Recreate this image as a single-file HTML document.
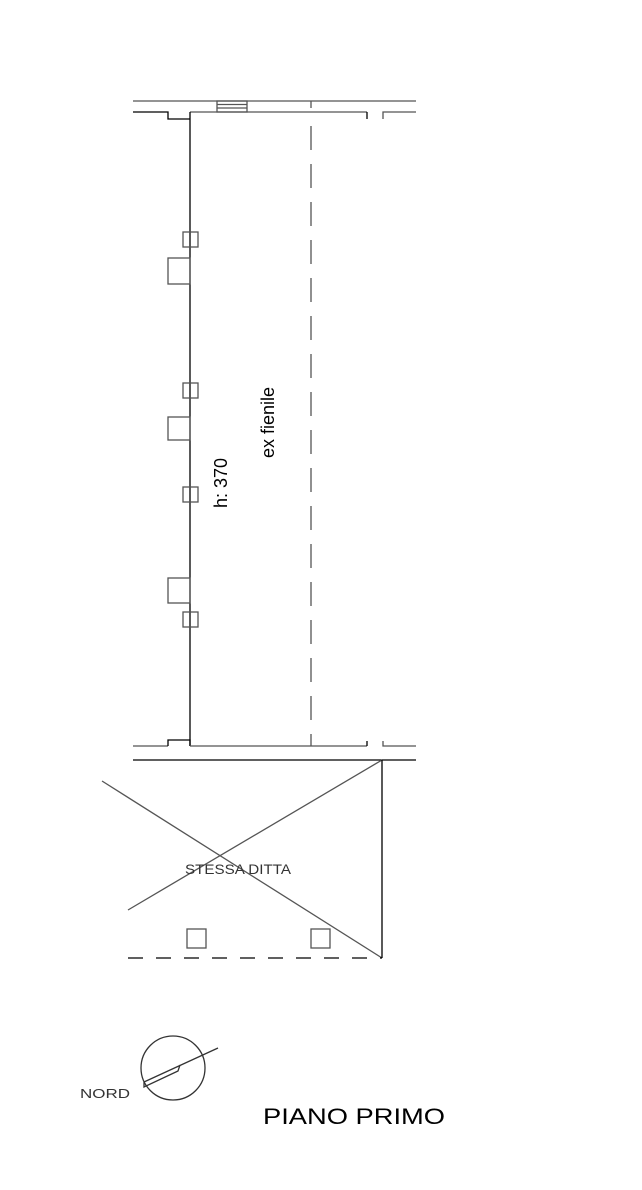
<!DOCTYPE html>
<html><head><meta charset="utf-8"><style>body{margin:0;background:#fff}svg{display:block}</style></head><body>
<svg width="642" height="1190" xmlns="http://www.w3.org/2000/svg" font-family="Liberation Sans, sans-serif">
<g stroke="#555" stroke-width="1.3" fill="none">
<line x1="133" y1="101" x2="416" y2="101"/>
<polyline points="133,112 168,112 168,119 190,119" stroke="#000"/>
<line x1="190" y1="112" x2="367" y2="112"/>
<line x1="367" y1="112" x2="367" y2="119" stroke="#000"/>
<polyline points="383,119 383,112 416,112"/>
<rect x="217" y="101" width="30" height="11"/>
<line x1="217" y1="104.5" x2="247" y2="104.5"/><line x1="217" y1="108" x2="247" y2="108"/>
<line x1="311" y1="101" x2="311" y2="108"/>
<line x1="311" y1="126" x2="311" y2="746" stroke-dasharray="24,14"/>
<line x1="190" y1="112" x2="190" y2="746" stroke="#000"/>
<line x1="133" y1="746" x2="168" y2="746"/>
<polyline points="168,746 168,740 190,740 190,746" stroke="#000"/>
<line x1="190" y1="746" x2="367" y2="746"/>
<line x1="367" y1="746" x2="367" y2="741" stroke="#000"/>
<polyline points="383,741 383,746 416,746"/>
<line x1="133" y1="760" x2="416" y2="760" stroke="#000"/>
<rect x="183" y="232" width="15" height="15"/>
<rect x="183" y="383" width="15" height="15"/>
<rect x="183" y="487" width="15" height="15"/>
<rect x="183" y="612" width="15" height="15"/>
<rect x="168" y="258" width="22" height="26"/>
<rect x="168" y="417" width="22" height="23"/>
<rect x="168" y="578" width="22" height="25"/>
<line x1="102" y1="781" x2="382" y2="958"/>
<line x1="128" y1="910" x2="382" y2="760"/>
<line x1="382" y1="760" x2="382" y2="958" stroke="#000"/>
<line x1="128" y1="958" x2="382" y2="958" stroke="#000" stroke-dasharray="15,13"/>
<rect x="187" y="929" width="19" height="19"/>
<rect x="311" y="929" width="19" height="19"/>
<circle cx="173" cy="1068" r="32" stroke="#333"/>
<line x1="144" y1="1082" x2="218" y2="1048" stroke="#333"/>
<polyline points="144,1082 144,1087 178,1071 180,1065" stroke="#333"/>
</g>
<text x="185" y="874" font-size="14" fill="#333" textLength="106" lengthAdjust="spacingAndGlyphs">STESSA DITTA</text>
<text x="80" y="1098" font-size="13" fill="#333" textLength="50" lengthAdjust="spacingAndGlyphs">NORD</text>
<text x="263" y="1124" font-size="22" fill="#000" textLength="182" lengthAdjust="spacingAndGlyphs">PIANO PRIMO</text>
<text transform="translate(227,508) rotate(-90)" font-size="18" fill="#000">h: 370</text>
<text transform="translate(274,458) rotate(-90)" font-size="18" fill="#000">ex fienile</text>
</svg>
</body></html>
